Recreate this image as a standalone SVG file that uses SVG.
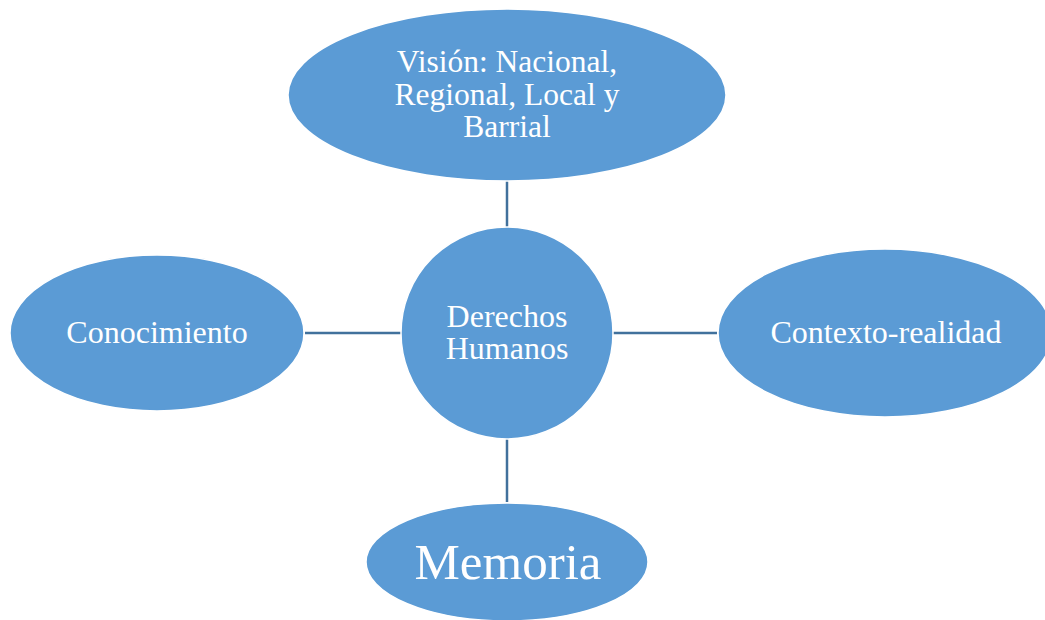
<svg xmlns="http://www.w3.org/2000/svg" width="1045" height="620" viewBox="0 0 1045 620">
<style>
.n{fill:#5B9BD5;stroke:#FFFFFF;stroke-width:1.5}
.t{fill:#FFFFFF;font-family:"Liberation Serif","Times New Roman",serif;text-anchor:middle}
.c{stroke:#41719C;stroke-width:2.5;fill:none}
</style>
<rect width="1045" height="620" fill="#FFFFFF"/>
<g id="connectors">
<line class="c" x1="507" y1="181" x2="507" y2="227"/>
<line class="c" x1="507" y1="439" x2="507" y2="502"/>
<line class="c" x1="305" y1="333" x2="401" y2="333"/>
<line class="c" x1="613" y1="333" x2="717" y2="333"/>
</g>
<g id="vision">
<ellipse class="n" cx="507" cy="95" rx="219" ry="86"/>
<text class="t" font-size="31.5"><tspan x="507" y="72">Visión: Nacional,</tspan><tspan x="507" y="105">Regional, Local y</tspan><tspan x="507" y="137">Barrial</tspan></text>
</g>
<g id="derechos">
<circle class="n" cx="507" cy="333" r="106"/>
<text class="t" font-size="32"><tspan x="507" y="327">Derechos</tspan><tspan x="507" y="359">Humanos</tspan></text>
</g>
<g id="conocimiento">
<ellipse class="n" cx="157" cy="333" rx="147" ry="78"/>
<text class="t" font-size="32" x="157" y="343">Conocimiento</text>
</g>
<g id="contexto">
<ellipse class="n" cx="885" cy="333" rx="167" ry="84"/>
<text class="t" font-size="32" x="886" y="343">Contexto-realidad</text>
</g>
<g id="memoria">
<ellipse class="n" cx="507" cy="562" rx="141" ry="59"/>
<text class="t" font-size="51" x="508" y="579">Memoria</text>
</g>
</svg>
